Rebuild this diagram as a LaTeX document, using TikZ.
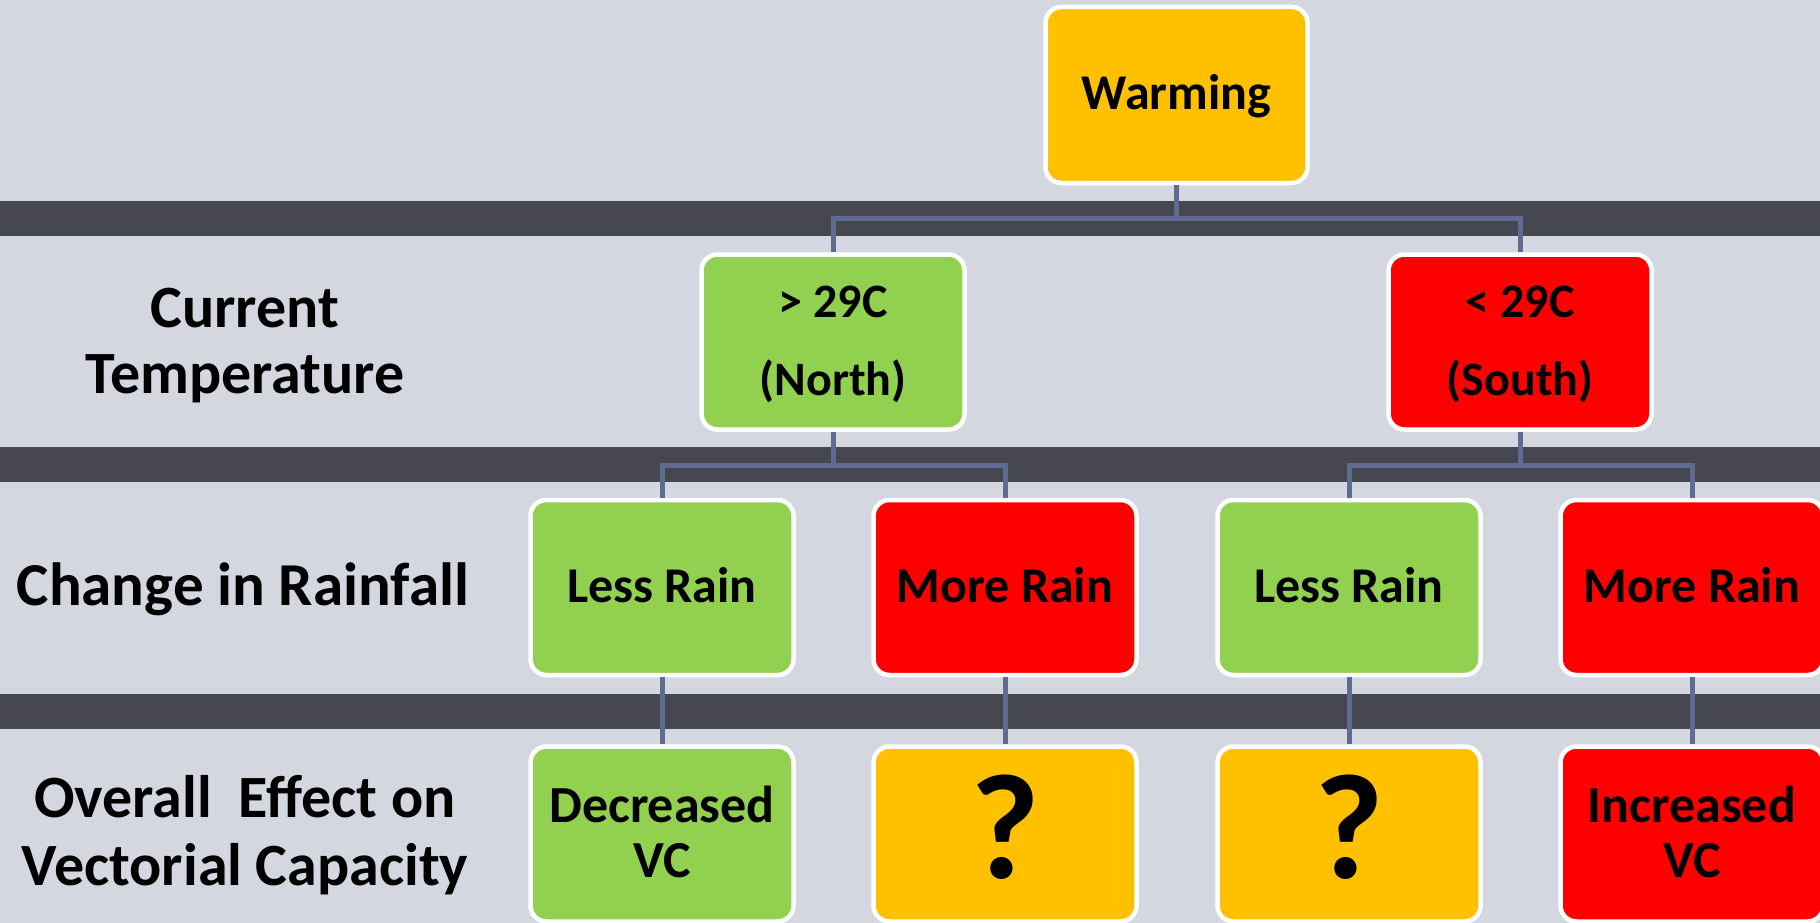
\documentclass[tikz,border=0pt]{standalone}
\usepackage{fontspec}
\setmainfont{Carlito}
\definecolor{bgc}{RGB}{212,215,224}
\definecolor{bandc}{RGB}{71,71,82}
\definecolor{linkc}{RGB}{95,107,145}
\definecolor{yel}{RGB}{255,192,0}
\definecolor{grn}{RGB}{146,208,80}
\definecolor{rd}{RGB}{255,0,0}
\tikzset{
  box/.style={rectangle, rounded corners=16pt, draw=white, line width=4.5pt,
    minimum width=263pt, minimum height=175pt, inner sep=0pt, align=center},
  txt/.style={inner sep=0pt, align=center, font=\bfseries},
  link/.style={draw=linkc, line width=5pt},
  band/.style={fill=bandc}
}
\begin{document}
\begin{tikzpicture}[x=1pt,y=-1pt]
\useasboundingbox (0,0) rectangle (1820,923);
\fill[bgc] (0,0) rectangle (1820,923);
\fill[band] (0,201) rectangle (1820,236);
\fill[band] (0,447) rectangle (1820,482);
\fill[band] (0,694) rectangle (1820,729);

\coordinate (j1) at (1176.5,218);
\coordinate (j2) at (833,465);
\coordinate (j3) at (1520,465);

% boxes
\node[box, fill=yel, minimum width=262pt, minimum height=176pt] (warm) at (1176.5,95) {};
\node[box, fill=grn] (north) at (833,342) {};
\node[box, fill=rd] (south) at (1520,342) {};
\node[box, fill=grn] (nl) at (662,587.5) {};
\node[box, fill=rd] (nm) at (1005,587.5) {};
\node[box, fill=grn] (sl) at (1349,587.5) {};
\node[box, fill=rd] (sm) at (1692,587.5) {};
\node[box, fill=grn] (nlr) at (662,834) {};
\node[box, fill=yel] (nmr) at (1005,834) {};
\node[box, fill=yel] (slr) at (1349,834) {};
\node[box, fill=rd] (smr) at (1692,834) {};

% connectors
\draw[link] (warm.south) -- (j1);
\draw[link] (j1) -| (north.north);
\draw[link] (j1) -| (south.north);
\draw[link] (north.south) -- (j2);
\draw[link] (j2) -| (nl.north);
\draw[link] (j2) -| (nm.north);
\draw[link] (south.south) -- (j3);
\draw[link] (j3) -| (sl.north);
\draw[link] (j3) -| (sm.north);
\draw[link] (nl.south) -- (nlr.north);
\draw[link] (nm.south) -- (nmr.north);
\draw[link] (sl.south) -- (slr.north);
\draw[link] (sm.south) -- (smr.north);

% box texts (base anchor = last line baseline)
\node[txt, anchor=base, font=\bfseries\fontsize{50}{60}\selectfont] (twarm) at (1176.5,110) {Warming};
\node[txt, anchor=base, font=\bfseries\fontsize{48}{78}\selectfont] (tnorth) at (833,395) {> 29C\\(North)};
\node[txt, anchor=base, font=\bfseries\fontsize{48}{78}\selectfont] (tsouth) at (1520,395) {< 29C\\(South)};
\node[txt, anchor=base, font=\bfseries\fontsize{50}{60}\selectfont] (tnl) at (662,602) {Less Rain};
\node[txt, anchor=base, font=\bfseries\fontsize{50}{60}\selectfont] (tnm) at (1005,602) {More Rain};
\node[txt, anchor=base, font=\bfseries\fontsize{50}{60}\selectfont] (tsl) at (1349,602) {Less Rain};
\node[txt, anchor=base, font=\bfseries\fontsize{50}{60}\selectfont] (tsm) at (1692,602) {More Rain};
\node[txt, anchor=base, font=\bfseries\fontsize{52}{55}\selectfont] (tnlr) at (662,877) {Decreased\\VC};
\node[txt, font=\bfseries\fontsize{150}{150}\selectfont] (tnmr) at (1005,827.5) {?};
\node[txt, font=\bfseries\fontsize{150}{150}\selectfont] (tslr) at (1349,827.5) {?};
\node[txt, anchor=base, font=\bfseries\fontsize{52}{55}\selectfont] (tsmr) at (1692,877) {Increased\\VC};

% row labels
\node[txt, anchor=base, font=\bfseries\fontsize{60}{66}\selectfont] (lab1) at (245,393) {Current\\Temperature};
\node[txt, anchor=base, font=\bfseries\fontsize{61}{66}\selectfont] (lab2) at (243,605) {Change in Rainfall};
\node[txt, anchor=base, font=\bfseries\fontsize{60}{68}\selectfont] (lab3) at (245,885) {Overall\ \ Effect on\\Vectorial Capacity};
\end{tikzpicture}
\end{document}
